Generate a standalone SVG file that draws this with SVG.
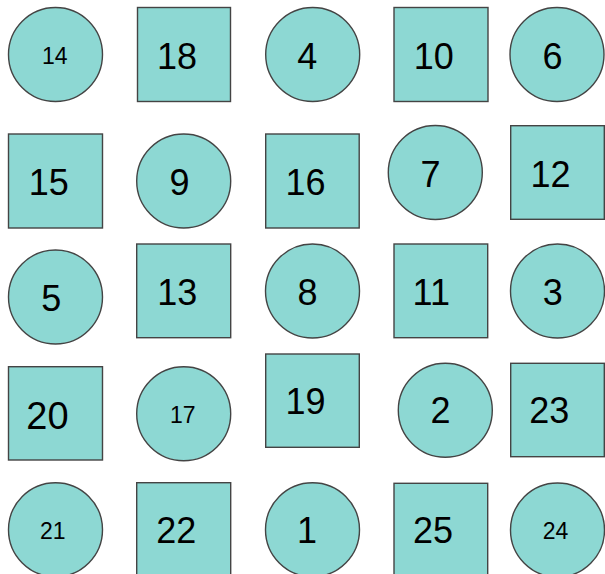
<svg xmlns="http://www.w3.org/2000/svg" width="605" height="574" viewBox="0 0 605 574">
<style>
.n{fill:#8dd8d3;stroke:#444;stroke-width:1.4}
text{font-family:"Liberation Sans",Arial,sans-serif;fill:#000;text-anchor:middle}
.b{font-size:36px}
.s{font-size:23px}
</style>
<rect width="605" height="574" fill="#fff"/>
<g id="connectors"></g>
<g id="n14"><circle class="n" cx="55.5" cy="54.5" r="47"/><text class="s" x="54.7" y="64">14</text></g>
<g id="n18"><rect class="n" x="137.5" y="7.5" width="93" height="94"/><text class="b" x="177" y="69">18</text></g>
<g id="n4"><circle class="n" cx="312.7" cy="54.5" r="47"/><text class="b" x="307.3" y="69">4</text></g>
<g id="n10"><rect class="n" x="394" y="7.5" width="94" height="94"/><text class="b" x="433.7" y="69">10</text></g>
<g id="n6"><circle class="n" cx="557" cy="54.5" r="47"/><text class="b" x="552.5" y="69">6</text></g>

<g id="n15"><rect class="n" x="8.5" y="134" width="94" height="94"/><text class="b" x="48.8" y="195">15</text></g>
<g id="n9"><circle class="n" cx="183.7" cy="181" r="47"/><text class="b" x="179.5" y="195">9</text></g>
<g id="n16"><rect class="n" x="265.7" y="134" width="93.5" height="94"/><text class="b" x="305.5" y="195">16</text></g>
<g id="n7"><circle class="n" cx="435.3" cy="172.5" r="47"/><text class="b" x="430.5" y="186.7">7</text></g>
<g id="n12"><rect class="n" x="510.7" y="125.7" width="93.6" height="93.6"/><text class="b" x="550.5" y="186.7">12</text></g>

<g id="n5"><circle class="n" cx="55.5" cy="297" r="47"/><text class="b" x="51.2" y="310.7">5</text></g>
<g id="n13"><rect class="n" x="136.7" y="244" width="94" height="93.7"/><text class="b" x="177.2" y="305">13</text></g>
<g id="n8"><circle class="n" cx="312.5" cy="291" r="47"/><text class="b" x="307.5" y="305">8</text></g>
<g id="n11"><rect class="n" x="394" y="244" width="93.7" height="93.7"/><text class="b" x="431.3" y="305">11</text></g>
<g id="n3"><circle class="n" cx="557.5" cy="291" r="47"/><text class="b" x="552.8" y="305">3</text></g>

<g id="n20"><rect class="n" x="8.5" y="366.7" width="94" height="93.3"/><text class="b" x="47.5" y="429" style="font-size:38px">20</text></g>
<g id="n17"><circle class="n" cx="183.7" cy="413.7" r="47"/><text class="s" x="182.8" y="423.3">17</text></g>
<g id="n19"><rect class="n" x="265.7" y="354" width="93.6" height="93.3"/><text class="b" x="305.5" y="414">19</text></g>
<g id="n2"><circle class="n" cx="445.3" cy="410.3" r="47"/><text class="b" x="440.5" y="423.3">2</text></g>
<g id="n23"><rect class="n" x="510.7" y="363.3" width="93.6" height="93.4"/><text class="b" x="549.3" y="423.3">23</text></g>

<g id="n21"><circle class="n" cx="55.5" cy="529.7" r="47"/><text class="s" x="52.8" y="539.3">21</text></g>
<g id="n22"><rect class="n" x="136.7" y="482.7" width="94" height="94"/><text class="b" x="176.3" y="543.3">22</text></g>
<g id="n1"><circle class="n" cx="312.5" cy="529.7" r="47"/><text class="b" x="307" y="543.3">1</text></g>
<g id="n25"><rect class="n" x="394" y="483.3" width="93.7" height="94"/><text class="b" x="433" y="543.3">25</text></g>
<g id="n24"><circle class="n" cx="557.5" cy="530" r="47"/><text class="s" x="555.5" y="539.3">24</text></g>
</svg>
